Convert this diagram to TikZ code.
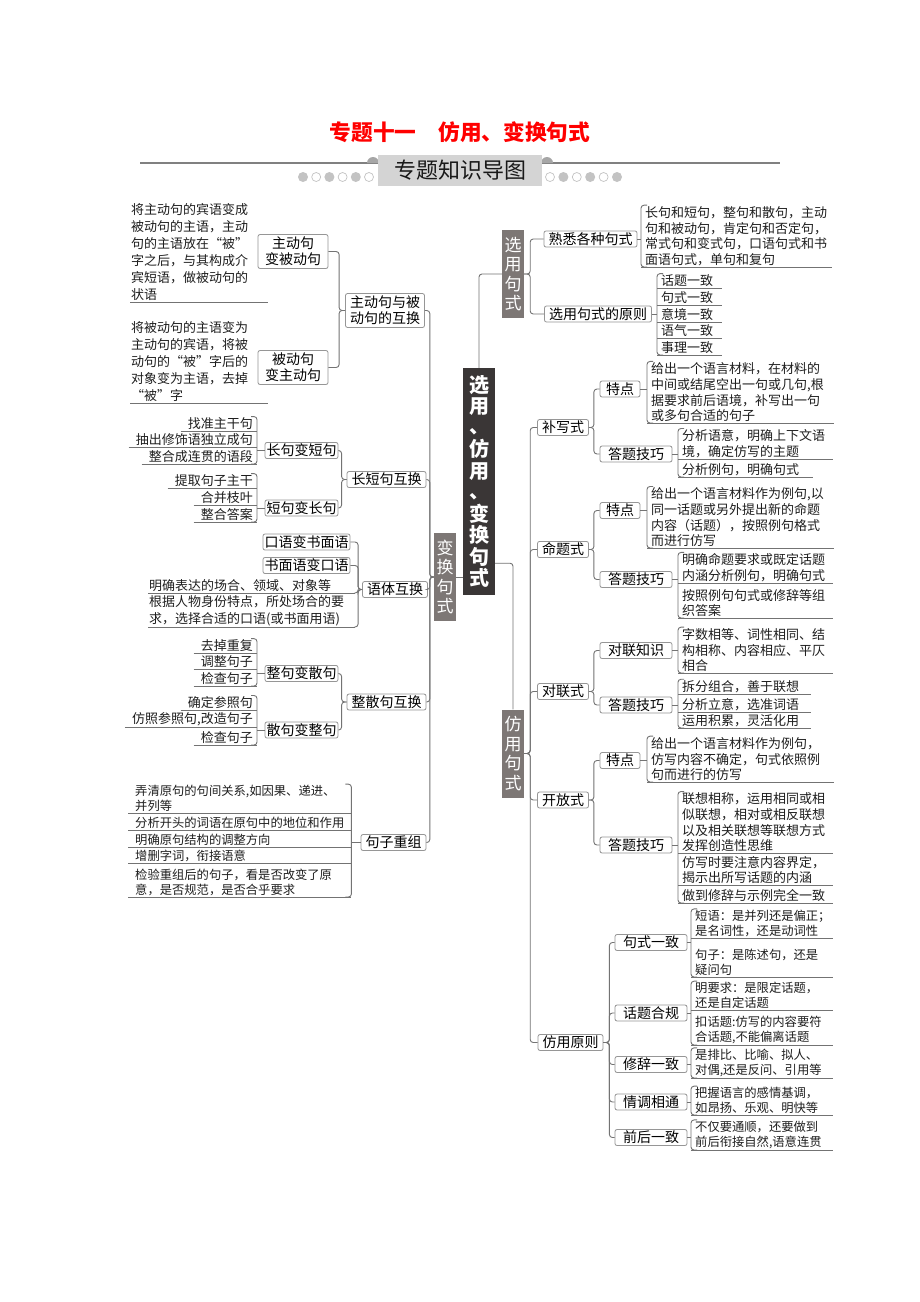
\documentclass[tikz,border=0pt]{standalone}
\usepackage{fontspec}
\setmainfont{Noto Sans CJK SC}
\usetikzlibrary{positioning}
\definecolor{cLine}{RGB}{115,115,115}
\definecolor{cBorder}{RGB}{150,150,150}
\definecolor{cCore}{RGB}{58,54,54}
\definecolor{cSub}{RGB}{125,119,117}
\definecolor{cBanner}{RGB}{212,212,212}
\definecolor{cDot}{RGB}{195,195,195}
\definecolor{cTitle}{RGB}{255,0,0}
\definecolor{cText}{RGB}{30,30,30}
\tikzset{
  topic/.style={rectangle,rounded corners=2pt,draw=cBorder,fill=white,line width=0.8pt,
                font=\fontsize{14}{16}\selectfont,align=center,inner xsep=4.5pt,inner ysep=1.5pt},
  ttopic/.style={topic,inner ysep=2.5pt},
  ltopic/.style={topic,inner xsep=1.5pt},
  leaf/.style={font=\fontsize{13}{15.7}\selectfont,text=cText,inner sep=1pt,align=left},
  sleaf/.style={leaf,font=\fontsize{12.3}{15}\selectfont},
  vsub/.style={rectangle,fill=cSub,text=white,font=\fontsize{17}{19.5}\selectfont,
               align=center,inner sep=0pt,minimum width=22pt,minimum height=88pt},
  corenode/.style={rectangle,fill=cCore,text=white,font=\fontsize{20}{21.5}\selectfont\bfseries,
               align=center,inner sep=0pt,minimum width=32pt,minimum height=227pt},
  conn/.style={draw=cLine,line width=0.9pt,rounded corners=3pt},
  uline/.style={draw=cLine,line width=0.9pt}
}
% bracket from a box to the leaves on its right / left
\newcommand{\brR}[3]{%
  \path ([xshift=-3pt]#2.north west) coordinate (bk);
  \draw[conn] (#1.east) -- (#1.east -| bk);
  \draw[conn] ([xshift=3pt]#2.north west) -| ([xshift=-3pt]#3.south west) -- ([xshift=3pt]#3.south west);}
\newcommand{\brL}[3]{%
  \path ([xshift=3pt]#2.north east) coordinate (bk);
  \draw[conn] (#1.west) -- (#1.west -| bk);
  \draw[conn] ([xshift=-3pt]#2.north east) -| ([xshift=3pt]#3.south east) -- ([xshift=-3pt]#3.south east);}

\begin{document}
\begin{tikzpicture}[x=1pt,y=-1pt]
  \fill[white] (0,0) rectangle (920,1302);
  \useasboundingbox (0,0) rectangle (920,1302);

  % heading
  \node[font=\fontsize{21.7}{24}\selectfont\bfseries,text=cTitle] (title) at (460,132)
      {专题十一\hspace{1em}仿用、变换句式};
  \coordinate (rl) at (140,163);
  \coordinate (rr) at (780,163);
  \draw[black!50,line width=2.2pt] (rl) -- (rr);
  \fill[black!35] (367,163) arc[start angle=180,end angle=360,radius=6];
  \fill[black!35] (541,163) arc[start angle=180,end angle=360,radius=6];
  \node[fill=cBanner,minimum width=164pt,minimum height=31pt,inner sep=0pt,
        font=\fontsize{22}{24}\selectfont,text=black!90] (banner) at (460,170.5) {专题知识导图};
  \foreach \i in {0,...,5}{
    \ifodd\i \draw[cDot,line width=0.7pt] (303+13.2*\i,177) circle[radius=4.5];
    \else \fill[cDot] (303+13.2*\i,177) circle[radius=5]; \fi
    \ifodd\i \fill[cDot] (550+13.4*\i,177) circle[radius=5];
    \else \draw[cDot,line width=0.7pt] (550+13.4*\i,177) circle[radius=4.5]; \fi
  }

  % centre
  \node[corenode] (core) at (479,481.5)
      {选\\用\\[-1.5pt]、\\[1.5pt]仿\\用\\[-1.5pt]、\\[1.5pt]变\\换\\句\\式};
  \node[vsub] (xuan) at (513,274) {选\\用\\句\\式};
  \node[vsub] (bian) at (445,577) {变\\换\\句\\式};
  \node[vsub] (fang) at (513,753.5) {仿\\用\\句\\式};

  % 选用句式
  \node[topic] (shuxi) at (590.5,239) {熟悉各种句式};
  \node[topic] (xyyz) at (598,314) {选用句式的原则};
  \node[leaf,anchor=south west,text width=186pt] (sx) at (644,267)
      {长句和短句，整句和散句，主动\\句和被动句，肯定句和否定句，\\常式句和变式句，口语句式和书\\面语句式，单句和复句};
  \node[leaf,anchor=south west,text width=60pt] (yz1) at (660,288) {话题一致};
  \node[leaf,anchor=south west,text width=60pt] (yz2) at (660,305) {句式一致};
  \node[leaf,anchor=south west,text width=60pt] (yz3) at (660,322) {意境一致};
  \node[leaf,anchor=south west,text width=60pt] (yz4) at (660,338) {语气一致};
  \node[leaf,anchor=south west,text width=60pt] (yz5) at (660,355) {事理一致};

  % 仿用句式
  \node[topic] (bux) at (563,427.5) {补写式};
  \node[topic,minimum width=40pt] (btd) at (620,389) {特点};
  \node[topic,minimum width=72pt] (bjq) at (636,454) {答题技巧};
  \node[leaf,anchor=south west,text width=182pt] (bt1) at (650,423)
      {给出一个语言材料，在材料的\\中间或结尾空出一句或几句,根\\据要求前后语境，补写出一句\\或多句合适的句子};
  \node[leaf,anchor=south west,text width=150pt] (bj1) at (681,459)
      {分析语意，明确上下文语\\境，确定仿写的主题};
  \node[leaf,anchor=south west,text width=130pt] (bj2) at (681,477) {分析例句，明确句式};

  \node[topic] (mts) at (563,549.5) {命题式};
  \node[topic,minimum width=40pt] (mtd) at (620,510.5) {特点};
  \node[topic,minimum width=72pt] (mjq) at (636,579.5) {答题技巧};
  \node[leaf,anchor=south west,text width=182pt] (mt1) at (650,548)
      {给出一个语言材料作为例句,以\\同一话题或另外提出新的命题\\内容（话题），按照例句格式\\而进行仿写};
  \node[leaf,anchor=south west,text width=150pt] (mj1) at (681,583)
      {明确命题要求或既定话题\\内涵分析例句，明确句式};
  \node[leaf,anchor=south west,text width=150pt] (mj2) at (681,618)
      {按照例句句式或修辞等组\\织答案};

  \node[topic] (dls) at (563,691.5) {对联式};
  \node[topic,minimum width=72pt] (dzs) at (636,650.5) {对联知识};
  \node[topic,minimum width=72pt] (djq) at (636,705) {答题技巧};
  \node[leaf,anchor=south west,text width=150pt] (dz1) at (681,673)
      {字数相等、词性相同、结\\构相称、内容相应、平仄\\相合};
  \node[leaf,anchor=south west,text width=128pt] (dj1) at (681,694) {拆分组合，善于联想};
  \node[leaf,anchor=south west,text width=128pt] (dj2) at (681,712) {分析立意，选准词语};
  \node[leaf,anchor=south west,text width=128pt] (dj3) at (681,728) {运用积累，灵活化用};

  \node[topic] (kfs) at (563,800) {开放式};
  \node[topic,minimum width=40pt] (ktd) at (620,760.5) {特点};
  \node[topic,minimum width=72pt] (kjq) at (636,845) {答题技巧};
  \node[leaf,anchor=south west,text width=182pt] (kt1) at (650,782)
      {给出一个语言材料作为例句，\\仿写内容不确定，句式依照例\\句而进行的仿写};
  \node[leaf,anchor=south west,text width=150pt] (kj1) at (681,853)
      {联想相称，运用相同或相\\似联想，相对或相反联想\\以及相关联想等联想方式\\发挥创造性思维};
  \node[leaf,anchor=south west,text width=150pt] (kj2) at (681,885)
      {仿写时要注意内容界定，\\揭示出所写话题的内涵};
  \node[leaf,anchor=south west,text width=150pt] (kj3) at (681,903) {做到修辞与示例完全一致};

  \node[topic] (fyyz) at (570.5,1042.5) {仿用原则};
  \node[topic,minimum width=72pt] (jsyz) at (651,942.5) {句式一致};
  \node[topic,minimum width=72pt] (htgg) at (651,1013) {话题合规};
  \node[topic,minimum width=72pt] (xcyz) at (651,1064.5) {修辞一致};
  \node[topic,minimum width=72pt] (qdxt) at (651,1102) {情调相通};
  \node[topic,minimum width=72pt] (qhyz) at (651,1137.5) {前后一致};
  \node[sleaf,anchor=south west,text width=137pt] (js1) at (694,938)
      {短语：是并列还是偏正；\\是名词性，还是动词性};
  \node[sleaf,anchor=south west,text width=137pt] (js2) at (694,977)
      {句子：是陈述句，还是\\疑问句};
  \node[sleaf,anchor=south west,text width=137pt] (ht1) at (694,1010)
      {明要求：是限定话题，\\还是自定话题};
  \node[sleaf,anchor=south west,text width=137pt] (ht2) at (694,1045)
      {扣话题:仿写的内容要符\\合话题,不能偏离话题};
  \node[sleaf,anchor=south west,text width=137pt] (xc1) at (694,1078)
      {是排比、比喻、拟人、\\对偶,还是反问、引用等};
  \node[sleaf,anchor=south west,text width=137pt] (qd1) at (694,1115)
      {把握语言的感情基调，\\如昂扬、乐观、明快等};
  \node[sleaf,anchor=south west,text width=137pt] (qh1) at (694,1150)
      {不仅要通顺，还要做到\\前后衔接自然,语意连贯};

  % 变换句式
  \node[ttopic] (hu1) at (385,310.5) {主动句与被\\动句的互换};
  \node[ttopic,minimum width=70pt] (zhu) at (293,251.5) {主动句\\变被动句};
  \node[ttopic,minimum width=70pt] (bei) at (293,367.5) {被动句\\变主动句};
  \node[leaf,font=\fontsize{13}{17}\selectfont,anchor=south west,text width=136pt] (za) at (130,302)
      {将主动句的宾语变成\\被动句的主语，主动\\句的主语放在“被”\\字之后，与其构成介\\宾短语，做被动句的\\状语};
  \node[leaf,font=\fontsize{13}{17}\selectfont,anchor=south west,text width=136pt] (zb) at (130,403)
      {将被动句的主语变为\\主动句的宾语，将被\\动句的“被”字后的\\对象变为主语，去掉\\“被”字};

  \node[topic] (chg) at (386.5,479.5) {长短句互换};
  \node[ltopic] (c2d) at (301.5,450.5) {长句变短句};
  \node[ltopic] (d2c) at (301.5,508) {短句变长句};
  \node[leaf,anchor=south east] (ca) at (254,431) {找准主干句};
  \node[leaf,anchor=south east] (cb) at (254,447) {抽出修饰语独立成句};
  \node[leaf,anchor=south east] (cc) at (254,464) {整合成连贯的语段};
  \node[leaf,anchor=south east] (da) at (254,488) {提取句子主干};
  \node[leaf,anchor=south east] (db) at (254,505) {合并枝叶};
  \node[leaf,anchor=south east] (dc) at (254,522) {整合答案};

  \node[topic] (yut) at (395,589.5) {语体互换};
  \node[ltopic] (k2s) at (306.5,542) {口语变书面语};
  \node[ltopic] (s2k) at (306.5,565.5) {书面语变口语};
  \node[leaf,font=\fontsize{13}{17}\selectfont,anchor=south west,text width=205pt] (ya) at (148,593)
      {明确表达的场合、领域、对象等};
  \node[leaf,font=\fontsize{13}{17}\selectfont,anchor=south west,text width=205pt] (yb) at (148,627)
      {根据人物身份特点，所处场合的要\\求，选择合适的口语(或书面用语)};

  \node[topic] (zsh) at (386.5,702) {整散句互换};
  \node[ltopic] (z2s) at (301.5,673.5) {整句变散句};
  \node[ltopic] (s2z) at (301.5,730) {散句变整句};
  \node[leaf,anchor=south east] (zsa) at (254,653) {去掉重复};
  \node[leaf,anchor=south east] (zsb) at (254,669) {调整句子};
  \node[leaf,anchor=south east] (zsc) at (254,686) {检查句子};
  \node[leaf,anchor=south east] (sza) at (254,710) {确定参照句};
  \node[leaf,anchor=south east] (szb) at (254,727) {仿照参照句,改造句子};
  \node[leaf,anchor=south east] (szc) at (254,745) {检查句子};

  \node[topic] (czu) at (393.5,842.5) {句子重组};
  \node[sleaf,anchor=south west,text width=212pt] (cz1) at (134,813)
      {弄清原句的句间关系,如因果、递进、\\并列等};
  \node[sleaf,anchor=south west,text width=212pt] (cz2) at (134,830) {分析开头的词语在原句中的地位和作用};
  \node[sleaf,anchor=south west,text width=212pt] (cz3) at (134,847) {明确原句结构的调整方向};
  \node[sleaf,anchor=south west,text width=212pt] (cz4) at (134,863) {增删字词，衔接语意};
  \node[sleaf,anchor=south west,text width=212pt] (cz5) at (134,897)
      {检验重组后的句子，看是否改变了原\\意，是否规范，是否合乎要求};

  % connectors
  \draw[conn] (xuan.west) -| (core.north);
  \draw[conn] (bian.east) -- (bian.east -| core.west);
  \draw[conn] ([yshift=32pt]core.south east) -| (fang.north);

  \draw[conn] (xuan.east) -- ++(6,0) |- (shuxi.west);
  \draw[conn] (xuan.east) -- ++(6,0) |- (xyyz.west);
  \foreach \n in {bux,mts,dls,kfs,fyyz}
    \draw[conn] (fang.east) -- ++(6,0) |- (\n.west);
  \foreach \n in {hu1,chg,yut,zsh,czu}
    \draw[conn] (bian.west) -- ++(-4,0) |- (\n.east);

  \draw[conn] (bux.east) -- ++(5,0) |- (btd.west);
  \draw[conn] (bux.east) -- ++(5,0) |- (bjq.west);
  \draw[conn] (mts.east) -- ++(5,0) |- (mtd.west);
  \draw[conn] (mts.east) -- ++(5,0) |- (mjq.west);
  \draw[conn] (dls.east) -- ++(5,0) |- (dzs.west);
  \draw[conn] (dls.east) -- ++(5,0) |- (djq.west);
  \draw[conn] (kfs.east) -- ++(5,0) |- (ktd.west);
  \draw[conn] (kfs.east) -- ++(5,0) |- (kjq.west);
  \foreach \n in {jsyz,htgg,xcyz,qdxt,qhyz}
    \draw[conn] (fyyz.east) -- ++(6,0) |- (\n.west);

  \draw[conn] (hu1.west) -- ++(-6,0) |- (zhu.east);
  \draw[conn] (hu1.west) -- ++(-6,0) |- (bei.east);
  \draw[conn] (chg.west) -- ++(-5,0) |- (c2d.east);
  \draw[conn] (chg.west) -- ++(-5,0) |- (d2c.east);
  \draw[conn] (zsh.west) -- ++(-5,0) |- (z2s.east);
  \draw[conn] (zsh.west) -- ++(-5,0) |- (s2z.east);
  \draw[conn] (yut.west) -- ++(-4,0) |- (k2s.east);
  \draw[conn] (yut.west) -- ++(-4,0) |- (s2k.east);
  \draw[conn] (yut.west) -- ++(-4,0) |- (ya.south east);
  \draw[conn] (yut.west) -- ++(-4,0) |- (yb.south east);

  \brR{shuxi}{sx}{sx}
  \brR{xyyz}{yz1}{yz5}
  \brR{btd}{bt1}{bt1}
  \brR{bjq}{bj1}{bj2}
  \brR{mtd}{mt1}{mt1}
  \brR{mjq}{mj1}{mj2}
  \brR{dzs}{dz1}{dz1}
  \brR{djq}{dj1}{dj3}
  \brR{ktd}{kt1}{kt1}
  \brR{kjq}{kj1}{kj3}
  \brR{jsyz}{js1}{js2}
  \brR{htgg}{ht1}{ht2}
  \brR{xcyz}{xc1}{xc1}
  \brR{qdxt}{qd1}{qd1}
  \brR{qhyz}{qh1}{qh1}
  \brL{c2d}{ca}{cc}
  \brL{d2c}{da}{dc}
  \brL{z2s}{zsa}{zsc}
  \brL{s2z}{sza}{szc}
  \brL{czu}{cz1}{cz5}

  % underlines
  \foreach \n in {sx,yz1,yz2,yz3,yz4,yz5,bt1,bj1,bj2,mt1,mj1,mj2,dz1,dj1,dj2,dj3,
                  kt1,kj1,kj2,kj3,js1,js2,ht1,ht2,xc1,qd1,qh1}
    \draw[uline] ([xshift=-3pt]\n.south west) -- (\n.south east);
  \foreach \n in {ca,cb,cc,da,db,dc,zsa,zsb,zsc,sza,szb,szc,cz1,cz2,cz3,cz4,cz5}
    \draw[uline] ([xshift=-6pt]\n.south west) -- ([xshift=3pt]\n.south east);
  \foreach \n in {za,zb,ya,yb}
    \draw[uline] (\n.south west) -- (\n.south east);
\end{tikzpicture}
\end{document}
